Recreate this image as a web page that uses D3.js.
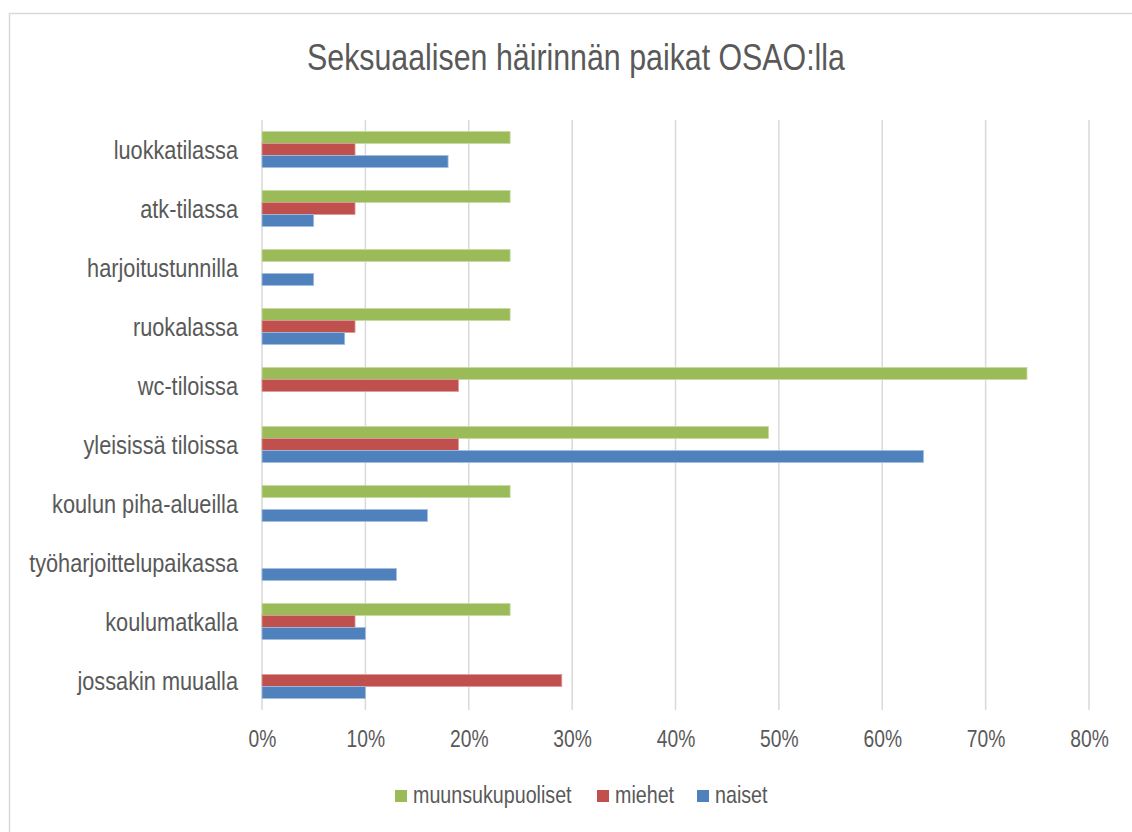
<!DOCTYPE html>
<html>
<head>
<meta charset="utf-8">
<script src="https://cdn.jsdelivr.net/npm/d3@7"></script>
<style>
  body { margin: 0; background: #fff; }
  text { font-family: "Liberation Sans", Arial, sans-serif; fill: #595959; }
</style>
</head>
<body>
<div id="chart"></div>
<script>
// Data
var categories = ["luokkatilassa", "atk-tilassa", "harjoitustunnilla", "ruokalassa", "wc-tiloissa",
    "yleisissä tiloissa", "koulun piha-alueilla", "työharjoittelupaikassa", "koulumatkalla", "jossakin muualla"];
var seriesNames = ["muunsukupuoliset", "miehet", "naiset"];
var muunsukupuoliset = [24, 24, 24, 24, 74, 49, 24, 0, 24, 0];
var miehet = [9, 9, 0, 9, 19, 19, 0, 0, 9, 29];
var naiset = [18, 5, 5, 8, 0, 64, 16, 13, 10, 10];
var xTicks = [0, 10, 20, 30, 40, 50, 60, 70, 80];
var colors = ["#9BBB59", "#C0504D", "#4F81BD"];
var strokes = ["#c4d9a0", "#dc9a98", "#a3bde0"];

var w = 1132, h = 832;
var margin = { top: 120, left: 262, right: 43, bottom: 122 };
var narrow = "scale(0.82,1)"; // no Arial Narrow installed, squeeze Liberation Sans

var svg = d3.select("#chart").append("svg")
    .attr("width", w)
    .attr("height", h);

// chart border
svg.append("rect")
    .attr("x", 9.5).attr("y", 13.5)
    .attr("width", 1140).attr("height", 840)
    .attr("fill", "none")
    .attr("stroke", "#d9d9d9")
    .attr("stroke-width", 1.5);

var x = d3.scaleLinear().domain([0, 80]).range([margin.left, w - margin.right]);
var y = d3.scaleBand().domain(categories).range([margin.top, h - margin.bottom]);
var y1 = d3.scaleBand().domain(seriesNames)
    .range([0, 36]);

// Title
svg.append("text")
    .attr("transform", "translate(576,70) " + narrow)
    .attr("text-anchor", "middle")
    .style("font-size", "37px")
    .text("Seksuaalisen häirinnän paikat OSAO:lla");

// Gridlines
svg.append("g").selectAll("line")
    .data(xTicks)
    .enter()
    .append("line")
    .attr("x1", d => x(d)).attr("x2", d => x(d))
    .attr("y1", margin.top).attr("y2", h - margin.bottom)
    .attr("stroke", "#d9d9d9")
    .attr("stroke-width", 1.5);

// x axis labels
var xAxis = d3.axisBottom(x).tickValues(xTicks).tickFormat(d => d + "%").tickSize(0).tickPadding(0);
var gx = svg.append("g")
    .attr("transform", "translate(0," + (h - margin.bottom) + ")")
    .call(xAxis);
gx.select(".domain").remove();
gx.selectAll("text")
    .attr("y", 37)
    .attr("dy", null)
    .attr("transform", narrow)
    .style("font-size", "23.5px")
    .attr("fill", "#595959");

// y axis labels
var yAxis = d3.axisLeft(y).tickSize(0).tickPadding(0);
var gy = svg.append("g")
    .attr("transform", "translate(" + (margin.left - 24) + ",0)")
    .call(yAxis);
gy.select(".domain").remove();
gy.selectAll("text")
    .attr("dy", "9.5")
    .attr("transform", narrow)
    .style("font-size", "26.5px")
    .attr("fill", "#595959");

// Bars
var seriesData = [muunsukupuoliset, miehet, naiset];
seriesNames.forEach(function (s, i) {
    svg.append("g").selectAll("rect")
        .data(categories.map((c, j) => ({ cat: c, v: seriesData[i][j] })).filter(d => d.v > 0))
        .enter()
        .append("rect")
        .attr("x", x(0))
        .attr("y", d => y(d.cat) + (y.bandwidth() - 36) / 2 + y1(s))
        .attr("width", d => x(d.v) - x(0))
        .attr("height", y1.bandwidth())
        .attr("fill", colors[i])
        .attr("stroke", strokes[i])
        .attr("stroke-width", 0.8);
});

// Legend
var legendX = [395, 597, 697];
var legend = svg.append("g").selectAll("g")
    .data(seriesNames)
    .enter()
    .append("g")
    .attr("transform", (d, i) => "translate(" + legendX[i] + ",790)");
legend.append("rect")
    .attr("width", 12).attr("height", 12)
    .attr("fill", (d, i) => colors[i]);
legend.append("text")
    .attr("transform", "translate(18,13) " + narrow)
    .style("font-size", "24px")
    .text(d => d);
</script>
</body>
</html>
